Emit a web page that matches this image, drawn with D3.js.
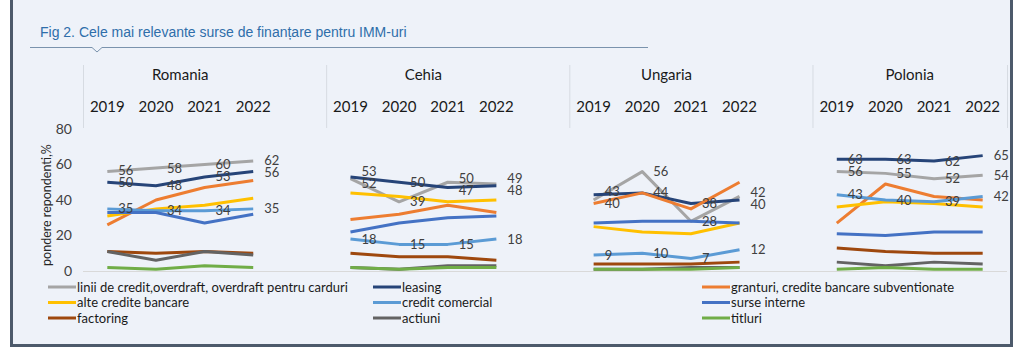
<!DOCTYPE html>
<html><head><meta charset="utf-8">
<script src="https://cdn.jsdelivr.net/npm/d3@7"></script>
<style>
html,body{margin:0;padding:0;background:#fff;}
svg{display:block;}
</style></head>
<body>
<svg id="chart" width="1024" height="356"></svg>
<script>
const titleText = "Fig 2. Cele mai relevante surse de finanțare pentru IMM-uri";
const yAxisTitle = "pondere repondenti,%";
const countries = ["Romania", "Cehia", "Ungaria", "Polonia"];
const years = ["2019", "2020", "2021", "2022"];
const yTicks = [0, 20, 40, 60, 80];

const seriesNames = [
  "linii de credit,overdraft, overdraft pentru carduri",
  "leasing",
  "granturi, credite bancare subventionate",
  "alte credite bancare",
  "credit comercial",
  "surse interne",
  "factoring",
  "actiuni",
  "titluri"
];
const seriesColors = ["#a5a5a5", "#264478", "#ed7d31", "#ffc000", "#5b9bd5", "#4472c4", "#9e480e", "#636363", "#70ad47"];

// values per country (Romania, Cehia, Ungaria, Polonia) x years 2019-2022
const liniiCredit     = [56,58,60,62, 52,39,50,49, 40,56,28,42, 56,55,52,54];
const leasing         = [50,48,53,56, 53,50,47,48, 43,44,38,40, 63,63,62,65];
const granturi        = [26,40,47,51, 29,32,37,33, 38,44,35,50, 27,49,42,40];
const alteCredite     = [31,35,37,41, 44,42,39,40, 25,22,21,27, 36,39,38,36];
const creditComercial = [35,34,34,35, 18,15,15,18,  9,10, 7,12, 43,40,39,42];
const surseInterne    = [33,33,27,32, 22,27,30,31, 27,28,28,27, 21,20,22,22];
const factoring       = [11,10,11,10, 10, 8, 8, 6,  4, 4, 4, 5, 13,11,10,10];
const actiuni         = [11, 6,11, 9,  2, 1, 3, 3,  1, 1, 2, 2,  5, 3, 5, 4];
const titluri         = [ 2, 1, 3, 2,  2, 1, 2, 2,  1, 1, 1, 2,  1, 2, 1, 1];
const seriesValues = [liniiCredit, leasing, granturi, alteCredite, creditComercial, surseInterne, factoring, actiuni, titluri];
const labelledSeries = [0, 1, 4];

const svg = d3.select("#chart");
const FONT = "Lato, 'Open Sans', sans-serif";

// frame
svg.append("rect").attr("x", 11).attr("y", 0).attr("width", 1001).attr("height", 346).attr("fill", "#eef2f9");
svg.append("line").attr("x1", 11.5).attr("x2", 11.5).attr("y1", 0).attr("y2", 347).attr("stroke", "#4d5a6b").attr("stroke-width", 3);
svg.append("line").attr("x1", 1011.5).attr("x2", 1011.5).attr("y1", 0).attr("y2", 347).attr("stroke", "#4d5a6b").attr("stroke-width", 3);
svg.append("line").attr("x1", 10).attr("x2", 1013).attr("y1", 345.5).attr("y2", 345.5).attr("stroke", "#4d5a6b").attr("stroke-width", 3);

// title
svg.append("text").attr("x", 40).attr("y", 37).text(titleText)
  .attr("font-family", "'Liberation Sans', Arial, sans-serif").attr("font-size", 14).attr("fill", "#2f6eaa");
svg.append("path").attr("d", "M30,47.5 H92 L97,52 L102,47.5 H648")
  .attr("fill", "none").attr("stroke", "#7a93ad").attr("stroke-width", 1);

// scales
const nCat = countries.length * 5 - 1;
const x = d3.scaleBand().domain(d3.range(nCat)).range([83, 1007]).padding(0);
const y = d3.scaleLinear().domain([0, 80]).range([271, 129]);
const cx = (c, j) => x(c * 5 + j) + x.bandwidth() / 2;

// group dividers
const dividers = [0, 5, 10, 15].map(i => x(i)).concat([x.range()[1]]);
svg.selectAll("line.div").data(dividers).join("line").attr("class", "div")
  .attr("x1", d => d + 0.5).attr("x2", d => d + 0.5).attr("y1", 65).attr("y2", 128)
  .attr("stroke", "#d6dbe2").attr("stroke-width", 1);

// baseline
svg.append("line").attr("x1", 83).attr("x2", 1007).attr("y1", y(0) + 0.5).attr("y2", y(0) + 0.5)
  .attr("stroke", "#d9d9d9").attr("stroke-width", 1);

// y axis
const yAxis = d3.axisLeft(y).tickValues(yTicks).tickSize(0).tickPadding(0);
const gy = svg.append("g").attr("transform", "translate(72,0)").call(yAxis);
gy.select(".domain").remove();
gy.selectAll("text").attr("font-family", FONT).attr("font-size", 14).attr("fill", "#404040");

svg.append("text").attr("transform", `translate(51,${y(40) + 5}) rotate(-90)`)
  .attr("text-anchor", "middle").attr("font-family", FONT).attr("font-size", 12.5).attr("fill", "#262626")
  .text(yAxisTitle);

// headers
countries.forEach((c, ci) => {
  const mid = (cx(ci, 0) + cx(ci, 3)) / 2;
  svg.append("text").attr("x", mid).attr("y", 80).attr("text-anchor", "middle")
    .attr("font-family", FONT).attr("font-size", 15).attr("fill", "#1a1a1a").text(c);
  years.forEach((yr, j) => {
    svg.append("text").attr("x", cx(ci, j)).attr("y", 112).attr("text-anchor", "middle")
      .attr("font-family", FONT).attr("font-size", 15).attr("fill", "#1a1a1a").text(yr);
  });
});

// lines
const line = d3.line().x(d => d.x).y(d => y(d.v));
seriesValues.forEach((vals, si) => {
  countries.forEach((c, ci) => {
    const pts = years.map((yr, j) => ({ x: cx(ci, j), v: vals[ci * 4 + j] }));
    svg.append("path").datum(pts).attr("d", line).attr("fill", "none")
      .attr("stroke", seriesColors[si]).attr("stroke-width", 3).attr("stroke-linejoin", "round");
  });
});

// data labels (right of point, with simple overlap avoidance)
const minSep = 12;
countries.forEach((c, ci) => {
  years.forEach((yr, j) => {
    const labs = labelledSeries.map(si => ({ v: seriesValues[si][ci * 4 + j], y: y(seriesValues[si][ci * 4 + j]) }));
    labs.sort((a, b) => a.y - b.y);
    for (let k = 1; k < labs.length; k++) {
      const gap = labs[k].y - labs[k - 1].y;
      if (gap < minSep) {
        const shift = (minSep - gap) / 2;
        labs[k - 1].y -= shift; labs[k].y += shift;
      }
    }
    labs.forEach(l => {
      svg.append("text").attr("x", cx(ci, j) + 11).attr("y", l.y).attr("dy", "0.35em")
        .attr("font-family", FONT).attr("font-size", 13).attr("fill", "#404040").text(l.v);
    });
  });
});

// legend
const legX = [48, 373, 702];
const legY = [287, 302.5, 318];
seriesNames.forEach((name, i) => {
  const col = i % 3, row = Math.floor(i / 3);
  const g = svg.append("g").attr("transform", `translate(${legX[col]},${legY[row]})`);
  g.append("line").attr("x1", 0).attr("x2", 28).attr("y1", 0).attr("y2", 0)
    .attr("stroke", seriesColors[i]).attr("stroke-width", 3);
  g.append("text").attr("x", 29).attr("y", 0).attr("dy", "0.35em")
    .attr("font-family", FONT).attr("font-size", 13).attr("fill", "#1a1a1a").text(name);
});
</script>
</body></html>
